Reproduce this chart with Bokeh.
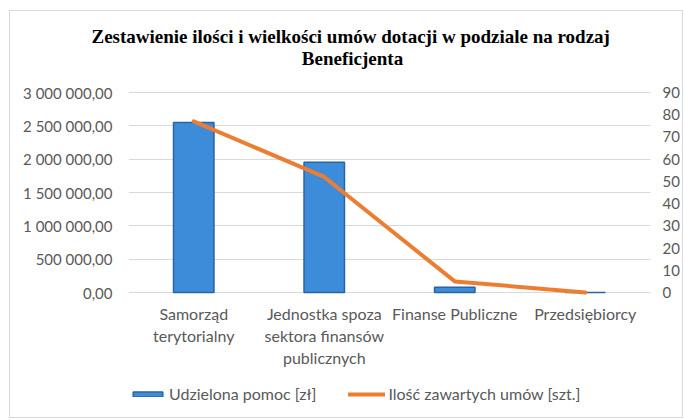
from bokeh.plotting import figure
from bokeh.models import (FactorRange, Range1d, LinearAxis, FixedTicker,
                          CustomJSTickFormatter, Legend, LegendItem, LabelSet, Label, Title,
                          ColumnDataSource)
from bokeh.core.properties import value
from bokeh.embed import file_html
from bokeh.resources import INLINE

categories = ["Samorząd terytorialny", "Jednostka spoza sektora finansów publicznych",
              "Finanse Publiczne", "Przedsiębiorcy"]
category_lines = [["Samorząd", "terytorialny"],
                  ["Jednostka spoza", "sektora finansów", "publicznych"],
                  ["Finanse Publiczne"],
                  ["Przedsiębiorcy"]]
amounts = [2550000, 1955000, 80000, 0]      # Udzielona pomoc [zł]
counts = [77, 52, 5, 0]                      # Ilość zawartych umów [szt.]
left_ticks = [0, 500000, 1000000, 1500000, 2000000, 2500000, 3000000]
right_ticks = [0, 10, 20, 30, 40, 50, 60, 70, 80, 90]

title_lines = ["Zestawienie ilości i wielkości umów dotacji w podziale na rodzaj",
               "Beneficjenta"]
bar_label = "Udzielona pomoc [zł]"
line_label = "Ilość zawartych umów [szt.]"

FONT = "Lato"
GREY = "#595959"
PLOT_H = 200            # px height of the value area
ABOVE_H = 45            # px of frame above the value area (second title line)
BELOW_H = 125           # px of frame below the value area (labels and legend)
FRAME_W = 522
FRAME_H = ABOVE_H + PLOT_H + BELOW_H

left_max, right_max = left_ticks[-1], right_ticks[-1]
y_range = Range1d(-left_max * BELOW_H / PLOT_H, left_max * (1 + ABOVE_H / PLOT_H))
right_range = Range1d(-right_max * BELOW_H / PLOT_H, right_max * (1 + ABOVE_H / PLOT_H))

p = figure(x_range=FactorRange(factors=categories, range_padding=0), y_range=y_range,
           frame_width=FRAME_W, frame_height=FRAME_H,
           output_backend="svg", toolbar_location=None,
           min_border_left=118, min_border_right=20, min_border_top=36, min_border_bottom=0,
           background_fill_color="white", border_fill_color="white")
p.extra_y_ranges = {"right": right_range}
p.outline_line_color = None
p.styles = {"border": "1px solid #d9d9d9", "margin-left": "9px", "margin-top": "10px"}

# title: first line above the frame, second line inside its top strip
p.add_layout(Title(text=title_lines[0], align="left", offset=-37, standoff=2,
                   text_font="Liberation Serif", text_font_style="bold",
                   text_font_size="19px", text_color="black"), "above")
p.add_layout(Label(x=224, y=FRAME_H - 11, x_units="screen", y_units="screen",
                   text=title_lines[1], text_font="Liberation Serif", text_font_style="bold",
                   text_font_size="19px", text_color="black",
                   text_align="center", text_baseline="middle"))

bars = p.vbar(x=categories, top=amounts, width=0.31, fill_color="#3d8cda",
              line_color="#2a63a3", line_width=1.5)
line = p.line(x=categories, y=counts, y_range_name="right", line_color="#ED7D31",
              line_width=4, line_join="round", line_cap="round")

# left axis
ya = p.yaxis[0]
ya.ticker = FixedTicker(ticks=left_ticks)
ya.formatter = CustomJSTickFormatter(code="""
    const s = tick.toFixed(2).split('.');
    const i = s[0].replace(/\\B(?=(\\d{3})+(?!\\d))/g, ' ');
    return i + ',' + s[1];
""")
# right axis
ra = LinearAxis(y_range_name="right", ticker=FixedTicker(ticks=right_ticks))
p.add_layout(ra, "right")

for ax in (ya, ra):
    ax.axis_line_color = None
    ax.major_tick_line_color = None
    ax.minor_tick_line_color = None
    ax.major_tick_out = 0
    ax.major_tick_in = 0
    ax.major_label_text_font = FONT
    ax.major_label_text_font_size = "15px"
    ax.major_label_text_color = GREY
ya.major_label_standoff = 16
ra.major_label_standoff = 12

p.xaxis.visible = False
p.xgrid.grid_line_color = None
p.ygrid.grid_line_color = "#d9d9d9"
p.ygrid.grid_line_width = 1

# category labels (multi-line), placed under the value area
rows_x, rows_y, rows_t = [], [], []
for cat, lines in zip(categories, category_lines):
    for i, t in enumerate(lines):
        rows_x.append(cat)
        rows_y.append(BELOW_H - 21 - 22 * i)
        rows_t.append(t)
cat_src = ColumnDataSource(dict(x=rows_x, y=rows_y, text=rows_t))
p.add_layout(LabelSet(x="x", y="y", text="text", y_units="screen", source=cat_src,
                      text_font=value(FONT), text_font_size=value("16px"), text_color=GREY,
                      text_align="center", text_baseline="middle"))

legend = Legend(items=[LegendItem(label=bar_label, renderers=[bars]),
                       LegendItem(label=line_label, renderers=[line])],
                orientation="horizontal", location=(1, 14),
                border_line_color=None, background_fill_alpha=0,
                label_text_font=FONT, label_text_font_size="16px", label_text_color=GREY,
                glyph_width=37, glyph_height=6, label_standoff=3, spacing=32,
                padding=0, margin=0)
p.add_layout(legend, "center")

open("out.html", "w").write(file_html(p, INLINE))
